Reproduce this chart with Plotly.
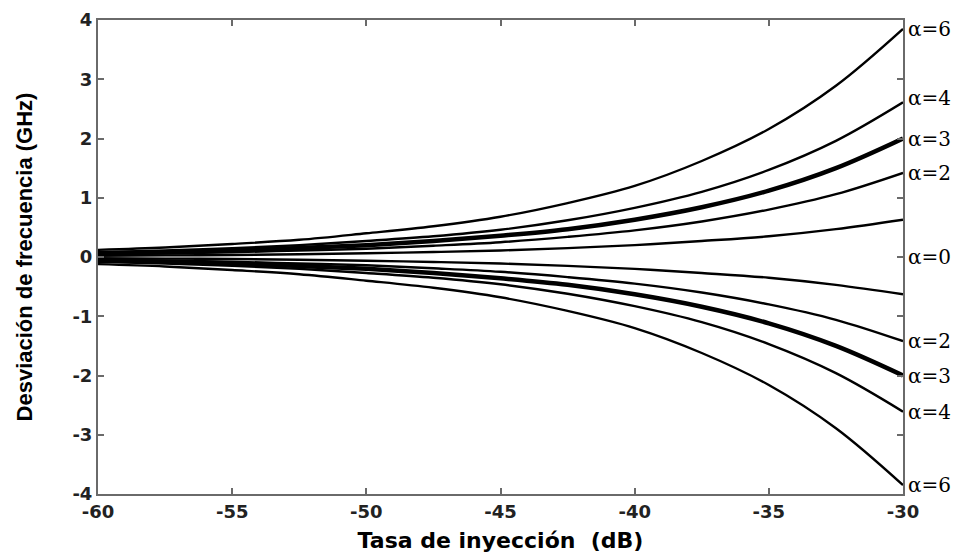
import plotly.graph_objects as go

# Injection ratio (dB) sample positions
inj_db = [-60, -57.5, -55, -52.5, -50, -47.5, -45, -42.5, -40, -37.5, -35, -32.5, -30]

# Upper locking-range boundary (GHz) for each linewidth enhancement factor
dev_a6 = [0.12, 0.16, 0.22, 0.29, 0.40, 0.52, 0.68, 0.91, 1.20, 1.62, 2.16, 2.89, 3.85]
dev_a4 = [0.08, 0.11, 0.15, 0.20, 0.27, 0.35, 0.46, 0.62, 0.83, 1.10, 1.47, 1.96, 2.61]
dev_a3 = [0.06, 0.08, 0.11, 0.15, 0.20, 0.27, 0.36, 0.47, 0.63, 0.84, 1.12, 1.50, 2.00]
dev_a2 = [0.045, 0.06, 0.08, 0.11, 0.14, 0.19, 0.25, 0.34, 0.45, 0.60, 0.80, 1.06, 1.42]
dev_a0 = [0.02, 0.027, 0.035, 0.047, 0.063, 0.084, 0.11, 0.15, 0.20, 0.27, 0.35, 0.47, 0.63]

x_ticks = [-60, -55, -50, -45, -40, -35, -30]
y_ticks = [-4, -3, -2, -1, 0, 1, 2, 3, 4]

curves = [
    ("α=6", dev_a6, 2.4),
    ("α=4", dev_a4, 2.4),
    ("α=3", dev_a3, 4.5),
    ("α=2", dev_a2, 2.4),
    ("α=0", dev_a0, 2.4),
]

fig = go.Figure()
for name, vals, w in curves:
    for sign in (1, -1):
        fig.add_trace(go.Scatter(
            x=inj_db, y=[sign * v for v in vals], mode="lines",
            line=dict(color="black", width=w, shape="spline", smoothing=1.0),
            showlegend=False, hoverinfo="skip", name=name,
        ))

# Right-hand labels next to each curve end
label_font = dict(family="DejaVu Serif", size=20, color="black")
for name, vals, _ in curves:
    end = vals[-1]
    if name == "α=0":
        fig.add_annotation(x=1.004, xref="paper", y=0, yref="y", text=name,
                           showarrow=False, xanchor="left", font=label_font)
        continue
    up = end + (0.08 if name == "α=4" else 0)
    for yv in (up, -end):
        fig.add_annotation(x=1.004, xref="paper", y=yv, yref="y", text=name,
                           showarrow=False, xanchor="left", font=label_font)

axis_common = dict(
    showline=True, linecolor="#6a6a6a", linewidth=2, mirror="ticks",
    ticks="inside", ticklen=6, tickcolor="#6a6a6a", tickwidth=2,
    showgrid=False, zeroline=False, automargin=False,
    tickfont=dict(family="DejaVu Sans", size=18, color="#222222", weight="bold"),
)

fig.update_layout(
    width=964, height=560,
    margin=dict(l=98, r=61, t=20, b=66),
    paper_bgcolor="white", plot_bgcolor="white",
    xaxis=dict(range=[-60, -30], tickvals=x_ticks, ticktext=[str(t) for t in x_ticks],
               title=dict(text="Tasa de inyección  (dB)", standoff=12,
                          font=dict(family="DejaVu Sans", size=22, color="black", weight="bold")),
               **axis_common),
    yaxis=dict(range=[-4, 4], tickvals=y_ticks, ticktext=[str(t) for t in y_ticks],
               title=dict(text="Desviación de frecuencia (GHz)", standoff=34,
                          font=dict(family="Liberation Sans", size=22, color="black", weight="bold")),
               **axis_common),
)

fig.write_html("out.html")
